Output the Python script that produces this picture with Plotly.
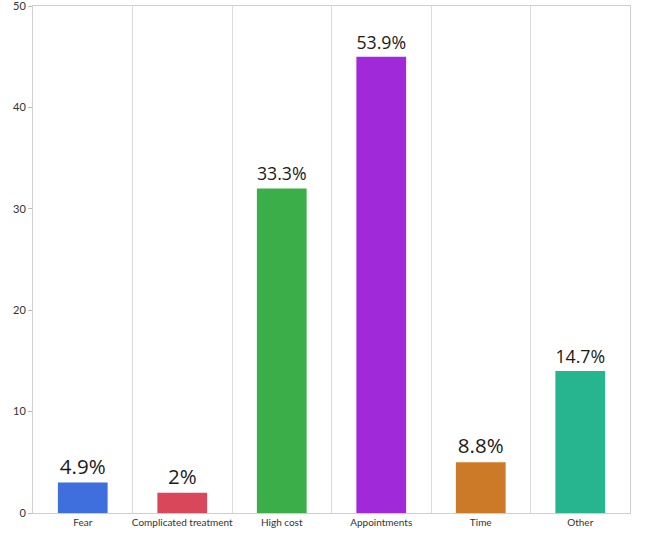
import plotly.graph_objects as go

categories = ["Fear", "Complicated treatment", "High cost", "Appointments", "Time", "Other"]
counts = [3, 2, 32, 45, 5, 14]
percent_labels = ["4.9%", "2%", "33.3%", "53.9%", "8.8%", "14.7%"]
bar_colors = ["#3f6fdc", "#d8475a", "#3cae49", "#a02ad9", "#cc7a28", "#27b58f"]

fig = go.Figure(go.Bar(
    x=categories,
    y=counts,
    marker_color=bar_colors,
    marker_line_width=0,
    text=percent_labels,
    textposition="outside",
    textfont=dict(size=20.5, color="#1a1a1a", family="Open Sans, sans-serif"),
    cliponaxis=False,
    width=0.5,
))

fig.update_layout(
    width=649,
    height=549,
    margin=dict(l=33, r=19, t=6, b=36),
    paper_bgcolor="white",
    plot_bgcolor="white",
    font=dict(family="Lato, Open Sans, sans-serif", color="#333"),
    showlegend=False,
    xaxis=dict(
        tickson="boundaries",
        showgrid=True,
        gridcolor="#dcdcdc",
        showline=True,
        linecolor="#cfcfcf",
        mirror=True,
        ticks="",
        tickangle=0,
        automargin=False,
        tickfont=dict(size=10, color="#333"),
    ),
    yaxis=dict(
        range=[0, 50],
        dtick=10,
        showgrid=False,
        zeroline=False,
        showline=True,
        linecolor="#cfcfcf",
        mirror=True,
        ticks="outside",
        ticklen=4,
        tickcolor="#bbbbbb",
        automargin=False,
        ticklabeloverflow="allow",
        tickfont=dict(size=11, color="#333"),
    ),
)

fig.write_html(
    "out.html",
    config={"displayModeBar": False},
    post_script="document.body.style.margin='0';",
)
